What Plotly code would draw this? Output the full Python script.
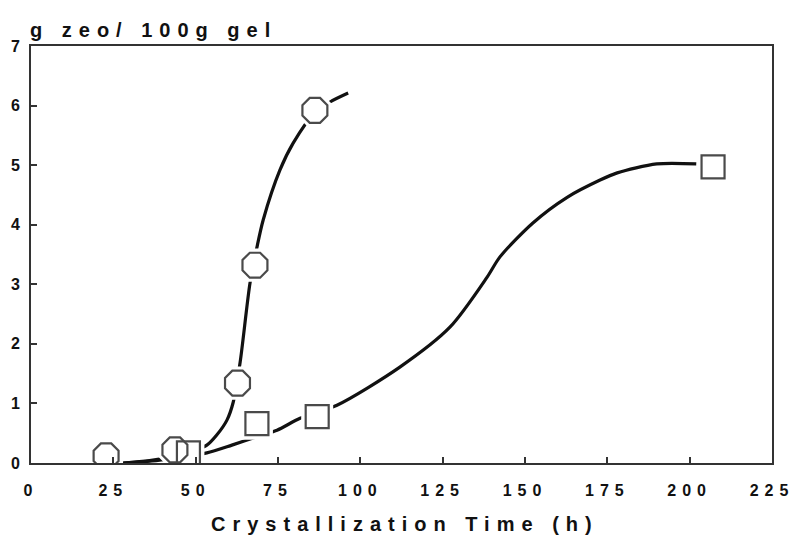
import plotly.graph_objects as go

# Data
time_circles = [22.8, 43.7, 62.7, 68.0, 86.2]
zeo_circles = [0.12, 0.22, 1.34, 3.32, 5.92]

time_squares = [47.8, 68.6, 86.9, 207.1]
zeo_squares = [0.17, 0.66, 0.78, 4.97]

# Hand-drawn fitted curves
fit_circle_t = [28, 36, 44, 50, 53.4, 56.4, 59.5, 61.4, 63.5, 66.5, 68.6, 70.5, 75.6, 79.6, 86.0, 90.8, 96.3]
fit_circle_y = [0.0, 0.04, 0.12, 0.22, 0.30, 0.47, 0.72, 1.02, 1.69, 3.02, 3.62, 4.08, 4.92, 5.37, 5.87, 6.06, 6.21]

fit_square_t = [28, 38, 46, 53.4, 61, 68.6, 74.7, 81.7, 92.9, 112, 127.2, 138.5, 142.4, 152.4, 162.8, 172.8, 178, 190, 202]
fit_square_y = [0.0, 0.04, 0.10, 0.17, 0.30, 0.44, 0.55, 0.75, 0.97, 1.61, 2.28, 3.12, 3.46, 4.03, 4.46, 4.75, 4.87, 5.02, 5.02]

x_ticks = [0, 25, 50, 75, 100, 125, 150, 175, 200, 225]
y_ticks = [0, 1, 2, 3, 4, 5, 6, 7]

FONT = "Liberation Sans, Arial, sans-serif"
INK = "#111111"
AXIS = "#333333"
MARK = "#4a4a4a"

fig = go.Figure()

# fitted curves
for t, y in [(fit_circle_t, fit_circle_y), (fit_square_t, fit_square_y)]:
    fig.add_trace(go.Scatter(x=t, y=y, mode="lines",
                             line=dict(color=INK, width=3.2, shape="spline", smoothing=0.8),
                             hoverinfo="skip", showlegend=False))

# white halos to break the lines around markers
fig.add_trace(go.Scatter(x=time_circles, y=zeo_circles, mode="markers",
                         marker=dict(symbol="octagon", size=36, color="white", line=dict(width=0)),
                         hoverinfo="skip", showlegend=False))
fig.add_trace(go.Scatter(x=time_squares, y=zeo_squares, mode="markers",
                         marker=dict(symbol="square", size=32, color="white", line=dict(width=0)),
                         hoverinfo="skip", showlegend=False))

# open markers
fig.add_trace(go.Scatter(x=time_circles, y=zeo_circles, mode="markers",
                         marker=dict(symbol="octagon-open", size=27, color=MARK, line=dict(width=2.2, color=MARK)),
                         showlegend=False))
fig.add_trace(go.Scatter(x=time_squares, y=zeo_squares, mode="markers",
                         marker=dict(symbol="square-open", size=23, color=MARK, line=dict(width=2.2, color=MARK)),
                         showlegend=False))

axis_common = dict(showgrid=False, zeroline=False, showline=True, linecolor=AXIS, linewidth=2,
                   mirror=True, ticks="inside", ticklen=6, tickwidth=1.5, tickcolor=AXIS,
                   tickfont=dict(family=FONT, size=16, color=INK, weight="bold"))

fig.update_xaxes(range=[0, 225], tickmode="array", tickvals=x_ticks,
                 ticktext=[str(v) for v in x_ticks], ticklabelstandoff=12, **axis_common)
fig.update_yaxes(range=[0, 7], tickmode="array", tickvals=y_ticks,
                 ticktext=[str(v) for v in y_ticks], ticklabelstandoff=6, **axis_common)

fig.add_annotation(text="g zeo/ 100g gel", xref="paper", yref="paper", x=-0.004, y=1,
                   xanchor="left", yanchor="bottom", yshift=3, showarrow=False, align="left",
                   font=dict(family=FONT, size=20, color=INK, weight="bold"))
fig.add_annotation(text="Crystallization Time (h)", xref="paper", yref="paper", x=0.5, y=0,
                   xanchor="center", yanchor="top", yshift=-48, xshift=3, showarrow=False,
                   font=dict(family=FONT, size=20, color=INK, weight="bold"))

fig.update_layout(width=797, height=536, margin=dict(l=31, r=25, t=46, b=73),
                  paper_bgcolor="white", plot_bgcolor="white", showlegend=False)

post = """
document.body.style.margin = '0';
document.body.style.padding = '0';
var gd = document.getElementById('{plot_id}');
function ls(){
  gd.querySelectorAll('.xtick text').forEach(function(t){ t.style.letterSpacing = '6px'; });
  gd.querySelectorAll('.annotation-text').forEach(function(t){ t.style.letterSpacing = '7px'; });
}
ls();
gd.on('plotly_afterplot', ls);
"""

fig.write_html("out.html", post_script=post, config={"displayModeBar": False})
